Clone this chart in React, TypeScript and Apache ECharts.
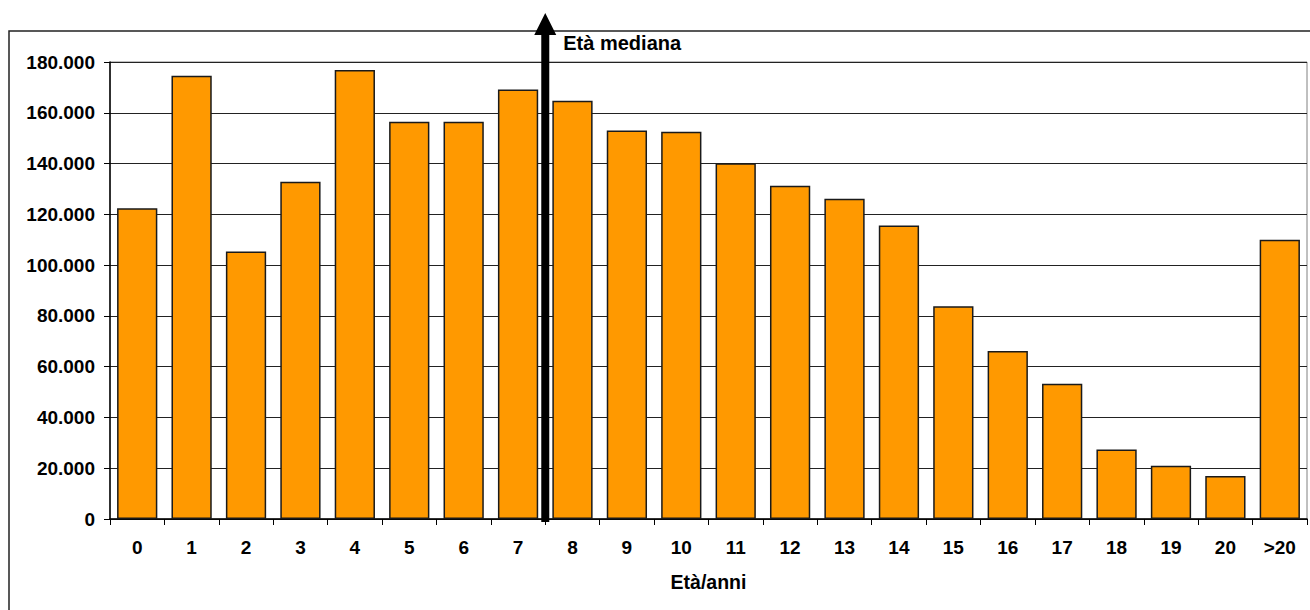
import React, { useEffect, useRef } from "react";
import * as echarts from "echarts";

const categories = ["0","1","2","3","4","5","6","7","8","9","10","11","12","13","14","15","16","17","18","19","20",">20"];
const values = [122400,174600,105400,132800,176800,156500,156500,169200,164700,153000,152500,140100,131300,126100,115600,83800,66200,53300,27400,21000,16900,110000];
const yTicks = { min: 0, max: 180000, interval: 20000 };
const medianAfterIndex = 7;
const medianLabel = "Età mediana";
const xAxisTitle = "Età/anni";

const FONT = "'Liberation Sans', Arial, sans-serif";

function fmt(v: number): string {
  if (v === 0) return "0";
  const k = Math.round(v / 1000);
  return k + ".000";
}

export default function App() {
  const ref = useRef<HTMLDivElement>(null);
  useEffect(() => {
    if (!ref.current) return;
    const chart = echarts.init(ref.current, undefined, { renderer: "svg" });
    chart.setOption({
      animation: false,
      backgroundColor: "#ffffff",
      textStyle: { fontFamily: FONT },
      grid: {
        left: 110,
        top: 62,
        right: 3,
        bottom: 91,
        containLabel: false,
        outerBoundsMode: "none",
        show: true,
        borderColor: "#808080",
        borderWidth: 1,
      },
      xAxis: {
        type: "category",
        data: categories,
        name: xAxisTitle,
        nameLocation: "middle",
        nameGap: 53,
        nameTextStyle: { fontFamily: FONT, fontWeight: "bold", fontSize: 19.5, color: "#000" },
        axisLine: { lineStyle: { color: "#000", width: 1.5 } },
        axisTick: { show: true, length: 6, lineStyle: { color: "#000", width: 1 } },
        axisLabel: { fontFamily: FONT, fontWeight: "bold", fontSize: 19, color: "#000", margin: 19 },
        splitLine: { show: false },
      },
      yAxis: {
        type: "value",
        min: yTicks.min,
        max: yTicks.max,
        interval: yTicks.interval,
        axisLine: { show: true, lineStyle: { color: "#000", width: 1.5 } },
        axisTick: { show: true, length: 6, lineStyle: { color: "#000", width: 1 } },
        axisLabel: { fontFamily: FONT, fontWeight: "bold", fontSize: 19, color: "#000", margin: 15, formatter: fmt },
        splitLine: { show: true, lineStyle: { color: "#222", width: 1 } },
      },
      series: [
        {
          type: "bar",
          data: values,
          barCategoryGap: "26%",
          itemStyle: { color: "#FF9900", borderColor: "#1a1a1a", borderWidth: 1.5 },
          silent: true,
        },
      ],
    });

    const x7 = chart.convertToPixel({ xAxisIndex: 0 }, categories[medianAfterIndex]) as number;
    const x8 = chart.convertToPixel({ xAxisIndex: 0 }, categories[medianAfterIndex + 1]) as number;
    const ax = (x7 + x8) / 2;
    const y0 = chart.convertToPixel({ yAxisIndex: 0 }, 0) as number;
    const headBase = 34;
    const tip = 13;

    chart.setOption({
      graphic: [
        {
          type: "rect",
          shape: { x: 9, y: 31, width: 1320, height: 620 },
          style: { fill: "none", stroke: "#222", lineWidth: 1.5 },
          z: 100,
          silent: true,
        },
        {
          type: "rect",
          shape: { x: ax - 4, y: headBase, width: 8, height: y0 + 3 - headBase },
          style: { fill: "#000" },
          z: 101,
          silent: true,
        },
        {
          type: "polygon",
          shape: { points: [[ax - 11, headBase + 1], [ax + 11, headBase + 1], [ax, tip]] },
          style: { fill: "#000" },
          z: 101,
          silent: true,
        },
        {
          type: "text",
          x: ax + 18,
          y: 43,
          style: {
            text: medianLabel,
            fontFamily: FONT,
            fontWeight: "bold",
            fontSize: 20,
            fill: "#000",
            verticalAlign: "middle",
            align: "left",
          },
          z: 101,
          silent: true,
        },
      ],
    });

    return () => chart.dispose();
  }, []);

  return (
    <div
      ref={ref}
      style={{ position: "fixed", left: 0, top: 0, width: 1310, height: 610, background: "#fff" }}
    />
  );
}
